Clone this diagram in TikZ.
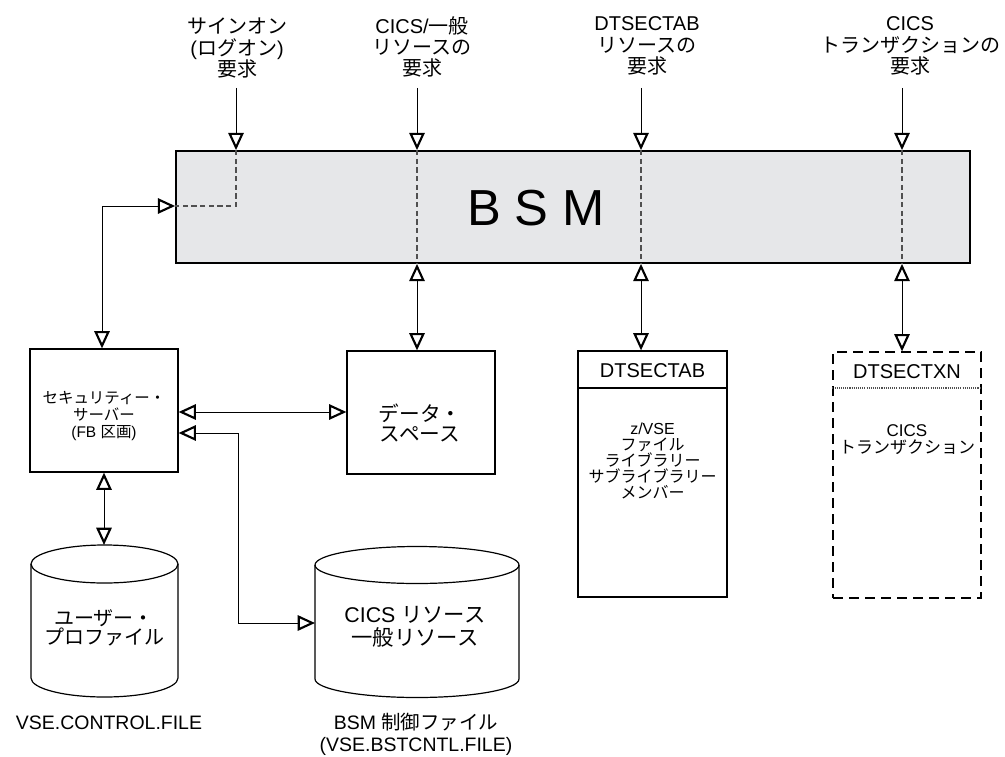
\documentclass[tikz,border=0pt]{standalone}
\usepackage{fontspec}
\setmainfont{Liberation Sans}
\newfontfamily\jp{Noto Sans CJK JP}
\newcommand\J[1]{{\jp #1}}
\usetikzlibrary{arrows.meta}
\definecolor{bsmfill}{RGB}{230,231,233}
\definecolor{dashgray}{RGB}{80,80,80}
\tikzset{
  box/.style={draw, line width=0.9pt, inner sep=0pt},
  conn/.style={line width=0.75pt},
  bsmdash/.style={draw=dashgray, line width=0.9pt, dash pattern=on 4pt off 2.5pt},
  toplab/.style={align=center, font=\fontsize{15}{16}\selectfont},
  >={Triangle[open,length=13pt,width=11.5pt,line width=1.6pt]}
}
\begin{document}
\begin{tikzpicture}[x=0.75pt,y=-0.75pt]
\useasboundingbox (0,0) rectangle (1005,756);

% top labels
\node[toplab] (lab1) at (237,48) {\J{サインオン}\\(\J{ログオン})\\\J{要求}};
\node[toplab] (lab2) at (422,47) {CICS/\J{一般}\\\J{リソースの}\\\J{要求}};
\node[toplab] (lab3) at (647,46) {DTSECTAB\\\J{リソースの}\\\J{要求}};
\node[toplab] (lab4) at (910,46) {CICS\\\J{トランザクションの}\\\J{要求}};

\coordinate (a1) at (236,88);
\coordinate (a2) at (417,88);
\coordinate (a3) at (641,88);
\coordinate (a4) at (902,88);

% BSM
\node[box, fill=bsmfill, line width=1.3pt, minimum width=595.5pt, minimum height=84pt] (bsm) at (573,207) {};
\coordinate (k1) at (102,206);
\draw[bsmdash] (a1 |- bsm.north) -- (a1 |- k1) -- (bsm.west |- k1);
\draw[bsmdash] (a2 |- bsm.north) -- (a2 |- bsm.south);
\draw[bsmdash] (a3 |- bsm.north) -- (a3 |- bsm.south);
\draw[bsmdash] (a4 |- bsm.north) -- (a4 |- bsm.south);
\node[font=\fontsize{38}{40}\selectfont] (bsmtxt) at (536,208) {B S M};

\foreach \a in {a1,a2,a3,a4} \draw[conn,->] (\a) -- (\a |- bsm.north);

% security server
\node[box, minimum width=111pt, minimum height=92.25pt] (sec) at (104,410.5) {};
\node[align=center, font=\fontsize{11.6}{12.8}\selectfont] (sectxt) at (104,416) {\J{セキュリティー・}\\\J{サーバー}\\(FB \J{区画})};

% data space
\node[box, minimum width=111pt, minimum height=92.25pt] (data) at (421,412.5) {};
\node[align=center, font=\fontsize{15.5}{15}\selectfont] (datatxt) at (420,423) {\J{データ・}\\\J{スペース}};

% DTSECTAB
\node[box, minimum width=111.75pt, minimum height=184.5pt] (tab) at (652.5,474) {};
\coordinate (hl1) at (652.5,388);
\draw[line width=0.9pt] (tab.west |- hl1) -- (tab.east |- hl1);
\node[font=\fontsize{15}{16}\selectfont] (tabh) at (652.5,371) {DTSECTAB};
\node[align=center, font=\fontsize{12}{12}\selectfont] (tabb) at (652.5,461) {z/VSE\\\J{ファイル}\\\J{ライブラリー}\\\J{サブライブラリー}\\\J{メンバー}};

% DTSECTXN
\node[draw, inner sep=0pt, line width=0.9pt, dash pattern=on 7.5pt off 4.5pt, minimum width=111pt, minimum height=184.5pt] (txn) at (907,475) {};
\coordinate (hl2) at (907,388);
\draw[dashgray, line width=0.8pt, dash pattern=on 0.8pt off 0.8pt] (txn.west |- hl2) -- (txn.east |- hl2);
\node[font=\fontsize{15}{16}\selectfont] (txnh) at (907,372) {DTSECTXN};
\node[align=center, font=\fontsize{12.75}{12.75}\selectfont] (txnb) at (907,440) {CICS\\\J{トランザクション}};

% cylinders
\draw[line width=0.9pt] (104.5,564) ellipse [x radius=55.125pt, y radius=14.25pt];
\draw[line width=0.9pt] (31,564) -- (31,678) .. controls (31,688.5) and (63.9,697) .. (104.5,697) .. controls (145.1,697) and (178,688.5) .. (178,678) -- (178,564);
\coordinate (cyl1) at (104,545);
\node[align=center, font=\fontsize{15}{14.5}\selectfont] (cyl1txt) at (104,628) {\J{ユーザー・}\\\J{プロファイル}};

\draw[line width=0.9pt] (417,565) ellipse [x radius=76.5pt, y radius=13.875pt];
\draw[line width=0.9pt] (315,565) -- (315,679) .. controls (315,689.2) and (360.7,697.5) .. (417,697.5) .. controls (473.3,697.5) and (519,689.2) .. (519,679) -- (519,565);
\coordinate (cyl2w) at (315,623);
\node[align=center, font=\fontsize{16}{17}\selectfont] (cyl2txt) at (415,627) {CICS \J{リソース}\\\J{一般リソース}};

% bottom labels
\node[font=\fontsize{14.6}{16}\selectfont] (f1) at (109,723) {VSE.CONTROL.FILE};
\node[align=center, font=\fontsize{14.6}{16.5}\selectfont] (f2) at (416,734) {BSM \J{制御ファイル}\\(VSE.BSTCNTL.FILE)};

% connectors
\draw[conn,<->] (sec.north -| k1) -- (k1) -- (bsm.west |- k1);
\draw[conn,<->] (a2 |- bsm.south) -- (a2 |- data.north);
\draw[conn,<->] (a3 |- bsm.south) -- (a3 |- tab.north);
\draw[conn,<->] (a4 |- bsm.south) -- (a4 |- txn.north);
\coordinate (h1) at (260,412);
\draw[conn,<->] (sec.east |- h1) -- (data.west |- h1);
\draw[conn,<->] (sec.south -| cyl1) -- (cyl1);
\coordinate (k2) at (238,433);
\coordinate (k3) at (238,623);
\draw[conn,<->] (sec.east |- k2) -- (k2) -- (k3) -- (cyl2w);
\end{tikzpicture}
\end{document}
